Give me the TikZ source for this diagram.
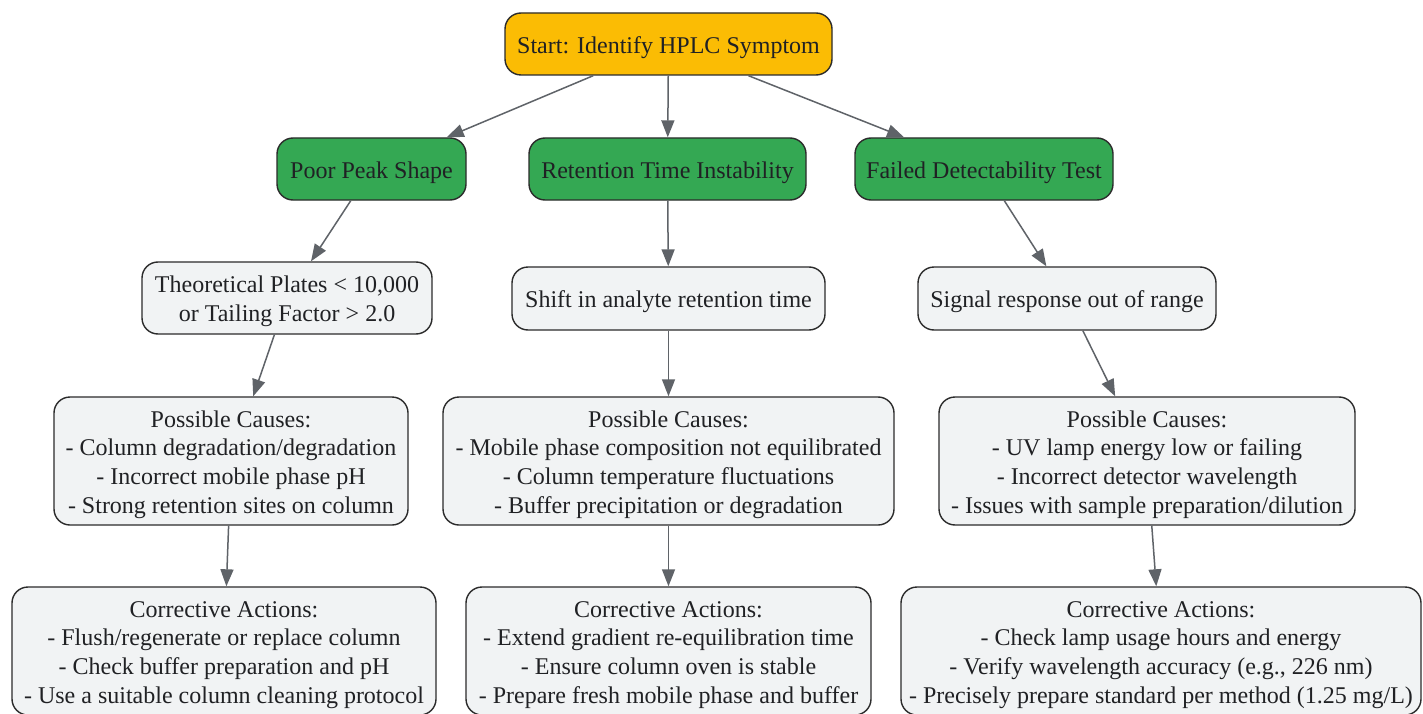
\documentclass[tikz,border=0pt]{standalone}
\usepackage{fontspec}
\setmainfont{Liberation Serif}
\usetikzlibrary{arrows.meta}
\definecolor{startfill}{HTML}{FBBC04}
\definecolor{symfill}{HTML}{34A853}
\definecolor{boxfill}{HTML}{F1F3F4}
\definecolor{boxline}{HTML}{2B2B2B}
\definecolor{arrowcol}{HTML}{5F6368}
\definecolor{textcol}{HTML}{202124}
\newcommand{\nodetxt}[1]{\raisebox{-3.5pt}[\height][\depth]{\begin{tabular}{@{}c@{}}#1\end{tabular}}}
\tikzset{
  base/.style={draw=boxline, line width=1.4pt, rounded corners=16pt, align=center,
    inner sep=3pt, text=textcol, font=\fontsize{24}{28.8}\selectfont},
  startbox/.style={base, fill=startfill},
  symbox/.style={base, fill=symfill},
  infobox/.style={base, fill=boxfill},
  conn/.style={draw=arrowcol, line width=1.5pt, -{Triangle[length=17pt,width=13pt]}},
}
\begin{document}
\begin{tikzpicture}[x=1pt,y=-1pt]
\clip (0,0) rectangle (1423,714);
\fill[white] (0,0) rectangle (1423,714);
% level 0
\node[startbox, minimum width=327pt, minimum height=62pt] (start) at (668.5,44) {\nodetxt{Start: Identify HPLC Symptom}};
% level 1
\node[symbox, minimum width=189pt, minimum height=62pt] (poor) at (371.5,169) {\nodetxt{Poor Peak Shape}};
\node[symbox, minimum width=277pt, minimum height=62pt] (ret) at (667.5,169) {\nodetxt{Retention Time Instability}};
\node[symbox, minimum width=258pt, minimum height=62pt] (fail) at (984,169) {\nodetxt{Failed Detectability Test}};
% level 2
\node[infobox, minimum width=290pt, minimum height=72pt] (theo) at (287,298) {\nodetxt{Theoretical Plates < 10,000\\or Tailing Factor > 2.0}};
\node[infobox, minimum width=313pt, minimum height=63pt] (shift) at (668.5,298.5) {\nodetxt{Shift in analyte retention time}};
\node[infobox, minimum width=298pt, minimum height=63pt] (signal) at (1067,298.5) {\nodetxt{Signal response out of range}};
% level 3
\node[infobox, minimum width=354pt, minimum height=128pt] (pc1) at (231,461) {\nodetxt{Possible Causes:\\- Column degradation/degradation\\- Incorrect mobile phase pH\\- Strong retention sites on column}};
\node[infobox, minimum width=451pt, minimum height=128pt] (pc2) at (668.5,461) {\nodetxt{Possible Causes:\\- Mobile phase composition not equilibrated\\- Column temperature fluctuations\\- Buffer precipitation or degradation}};
\node[infobox, minimum width=416pt, minimum height=128pt] (pc3) at (1147,461) {\nodetxt{Possible Causes:\\- UV lamp energy low or failing\\- Incorrect detector wavelength\\- Issues with sample preparation/dilution}};
% level 4
\node[infobox, minimum width=424pt, minimum height=128pt] (ca1) at (224,651) {\nodetxt{Corrective Actions:\\- Flush/regenerate or replace column\\- Check buffer preparation and pH\\- Use a suitable column cleaning protocol}};
\node[infobox, minimum width=405pt, minimum height=128pt] (ca2) at (668.5,651) {\nodetxt{Corrective Actions:\\- Extend gradient re-equilibration time\\- Ensure column oven is stable\\- Prepare fresh mobile phase and buffer}};
\node[infobox, minimum width=520pt, minimum height=128pt] (ca3) at (1161,651) {\nodetxt{Corrective Actions:\\- Check lamp usage hours and energy\\- Verify wavelength accuracy (e.g., 226 nm)\\- Precisely prepare standard per method (1.25 mg/L)}};
% connectors
\draw[conn] (start) -- (poor);
\draw[conn] (start) -- (ret);
\draw[conn] (start) -- (fail);
\draw[conn] (poor) -- (theo);
\draw[conn] (ret) -- (shift);
\draw[conn] (fail) -- (signal);
\draw[conn] (theo) -- (pc1);
\draw[conn] (shift) -- (pc2);
\draw[conn] (signal) -- (pc3);
\draw[conn] (pc1) -- (ca1);
\draw[conn] (pc2) -- (ca2);
\draw[conn] (pc3) -- (ca3);
\end{tikzpicture}
\end{document}
